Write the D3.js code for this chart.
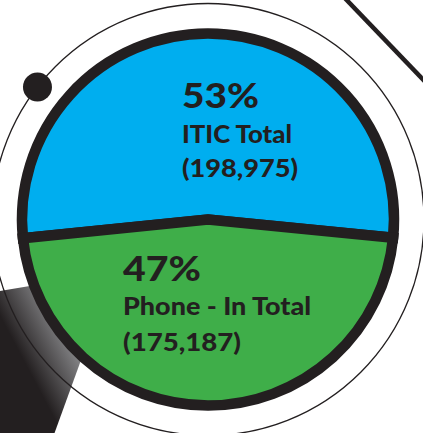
<!DOCTYPE html>
<html>
<head>
<meta charset="utf-8">
<script src="https://cdn.jsdelivr.net/npm/d3@7"></script>
<style>
  html, body { margin: 0; padding: 0; background: #ffffff; }
  svg { display: block; }
</style>
</head>
<body>
<script>
// ---- data ----
const categories = ["ITIC Total", "Phone - In Total"];
const values = [198975, 175187];
const percentLabels = ["53%", "47%"];
const countLabels = ["(198,975)", "(175,187)"];
const colors = ["#00aeef", "#3fae49"];

const W = 423, H = 433;
const cx = 208, cy = 219.5;
const R = 186;          // pie path radius (outline centred on it)
const ringR = 216;

const svg = d3.select("body").append("svg")
  .attr("width", W).attr("height", H);

svg.append("rect").attr("width", W).attr("height", H).attr("fill", "#ffffff");

// gradient band behind (bottom left)
const defs = svg.append("defs");
const grad = defs.append("linearGradient")
  .attr("id", "bandGrad")
  .attr("gradientUnits", "userSpaceOnUse")
  .attr("x1", 10).attr("y1", 380).attr("x2", 95).attr("y2", 335);
grad.append("stop").attr("offset", 0).attr("stop-color", "#231f20");
grad.append("stop").attr("offset", 0.22).attr("stop-color", "#231f20");
grad.append("stop").attr("offset", 1).attr("stop-color", "#b3b5b8");

svg.append("path")
  .attr("d", d3.line()([[0, 291], [113, 272], [52, 440], [0, 440]]) + "Z")
  .attr("fill", "url(#bandGrad)");

// thin outer ring
svg.append("circle")
  .attr("cx", cx).attr("cy", cy).attr("r", ringR)
  .attr("fill", "none").attr("stroke", "#231f20").attr("stroke-width", 1.3);

// small dot on ring
const dotAng = Math.atan2(85 - cy, 35 - cx);
svg.append("circle")
  .attr("cx", cx + ringR * Math.cos(dotAng))
  .attr("cy", cy + ringR * Math.sin(dotAng))
  .attr("r", 14.5).attr("fill", "#231f20");

// diagonal line top right
svg.append("line")
  .attr("x1", 339).attr("y1", -8).attr("x2", 432).attr("y2", 89)
  .attr("stroke", "#231f20").attr("stroke-width", 4.5);

// pie
const deg = Math.PI / 180;
const start = -95.8 * deg;
const pie = d3.pie().sort(null).value(d => d)
  .startAngle(start).endAngle(start + 2 * Math.PI);
const arcs = pie(values);
const arc = d3.arc().innerRadius(0).outerRadius(R);

const g = svg.append("g").attr("transform", `translate(${cx},${cy})`);
g.selectAll("path.slice").data(arcs).enter().append("path")
  .attr("class", "slice")
  .attr("d", arc)
  .attr("fill", (d, i) => colors[i])
  .attr("stroke", "#231f20")
  .attr("stroke-width", 10.5)
  .attr("stroke-linejoin", "miter");

// labels
const font = "Lato, 'Open Sans', sans-serif";
const labelPos = [
  { x: 182, y: [107.5, 143, 177] },
  { x: 123, y: [281, 314.5, 350.5] }
];
const widths = [
  [77, 110, 116],
  [78, 188, 118]
];
categories.forEach((c, i) => {
  const lines = [percentLabels[i], c, countLabels[i]];
  const sizes = [34, 24.5, 24.5];
  lines.forEach((t, j) => {
    svg.append("text")
      .attr("x", labelPos[i].x)
      .attr("y", labelPos[i].y[j])
      .attr("font-family", font)
      .attr("font-weight", 900)
      .attr("font-size", sizes[j])
      .attr("fill", "#231f20")
      .attr("textLength", widths[i][j])
      .attr("lengthAdjust", "spacingAndGlyphs")
      .text(t);
  });
});
</script>
</body>
</html>
